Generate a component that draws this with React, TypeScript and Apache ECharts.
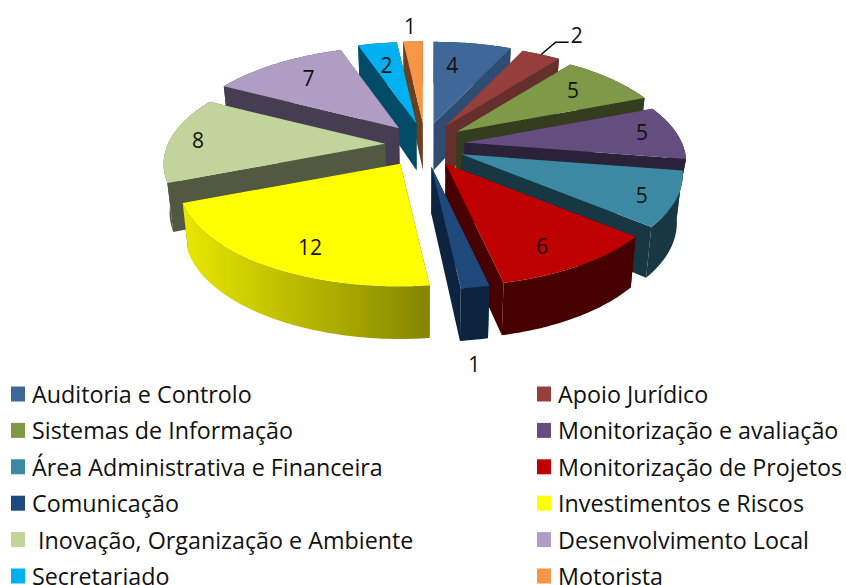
import React, { useEffect, useRef } from "react";
import * as echarts from "echarts";

const categories = [
  "Auditoria e Controlo",
  "Apoio Jurídico",
  "Sistemas de Informação",
  "Monitorização e avaliação",
  "Área Administrativa e Financeira",
  "Monitorização de Projetos",
  "Comunicação",
  "Investimentos e Riscos",
  " Inovação, Organização e Ambiente",
  "Desenvolvimento Local",
  "Secretariado",
  "Motorista",
];
const values = [4, 2, 5, 5, 5, 6, 1, 12, 8, 7, 2, 1];

const topColors = ["#3F6797", "#953F3C", "#7E9A48", "#654D80", "#3B89A3", "#BE0000", "#1F497D", "#FFFF00", "#C3D39C", "#AF9DC3", "#00B0F0", "#F79646"];
const wallColors = ["#2F4D72", "#652F2E", "#353D1F", "#2B2139", "#173843", "#470000", "#0D2440", "#A8A800", "#525941", "#463D53", "#004B66", "#6A401E"];

// Back-to-front painting order of the exploded slices
const paintOrder = [11, 0, 10, 1, 9, 2, 8, 3, 4, 7, 5, 6];
// Label placement: [fraction of the radius, angle offset from the slice's middle in degrees]
const labelPlace = [[0.68, -4.2], [1.36, 2], [0.745, -1], [0.842, -1.3], [0.86, 2], [0.81, 3], [1.44, 3.7], [0.81, -5], [0.87, -0.4], [0.737, 1.2], [0.692, -0.6], [1.24, -0.3]];

const CX = 425, CY = 145, EX = 40, EY = 22;
const R = 217, RY = 98, P = 0.2, DEPTH = 47, SHRINK = 0.977;
const total = values.reduce((a, b) => a + b, 0);
const rad = (d: number) => (d * Math.PI) / 180;

function sliceAngles(i: number) {
  const before = values.slice(0, i).reduce((a, b) => a + b, 0);
  const start = (before / total) * 360;
  const end = ((before + values[i]) / total) * 360;
  return { start, end, mid: (start + end) / 2 };
}

function project(i: number, deg: number, t: number) {
  const { mid } = sliceAngles(i);
  const ax = CX + EX * Math.sin(rad(mid)) + (i === 7 ? -4 : 0);
  const ay = CY - EY * Math.cos(rad(mid));
  const u = t * Math.sin(rad(deg));
  const v = t * Math.cos(rad(deg));
  const w = 1 + P * v;
  return { x: ax + (R * u) / w, y: ay - (RY * v) / w, v };
}

function lower(i: number, p: { x: number; y: number; v: number }) {
  const depth = i === 3 ? 30 : DEPTH;
  return [CX + (p.x - CX) * SHRINK, p.y + depth * (1 - 0.12 * p.v)];
}

function renderSlice(i: number) {
  const { start, end, mid } = sliceAngles(i);
  const apex = project(i, mid, 0);
  const arc: { x: number; y: number; v: number }[] = [];
  const steps = Math.max(4, Math.ceil(end - start));
  for (let k = 0; k <= steps; k++) arc.push(project(i, start + ((end - start) * k) / steps, 1));
  const first = arc[0];
  const last = arc[arc.length - 1];
  const xy = (p: { x: number; y: number }) => [p.x, p.y];
  const low = (p: { x: number; y: number; v: number }) => lower(i, p);
  const wallFill: any =
    i === 7
      ? new echarts.graphic.LinearGradient(0, 0, 1, 0, [
          { offset: 0, color: "#E8E800" },
          { offset: 1, color: "#858500" },
        ])
      : wallColors[i];

  const children: any[] = [
    { type: "polygon", shape: { points: [xy(apex), xy(first), low(first), low(apex)] }, style: { fill: wallColors[i === 7 ? 8 : i] } },
    { type: "polygon", shape: { points: [xy(apex), xy(last), low(last), low(apex)] }, style: { fill: wallColors[i === 7 ? 8 : i] } },
    {
      type: "polygon",
      shape: { points: [...arc.map(xy), ...arc.slice().reverse().map(low)] },
      style: { fill: wallFill },
    },
    { type: "polygon", shape: { points: [xy(apex), ...arc.map(xy)] }, style: { fill: topColors[i] } },
  ];
  return children;
}

function renderLabel(i: number) {
  const { mid } = sliceAngles(i);
  const [t, off] = labelPlace[i];
  const p = project(i, mid + off, t);
  const children: any[] = [
    {
      type: "text",
      x: p.x,
      y: p.y,
      z2: 100,
      style: { text: String(values[i]), fill: "#111", font: "21px 'Open Sans'", align: "center", verticalAlign: "middle" },
    },
  ];
  if (i === 1) {
    const s = project(i, mid, 1);
    children.push({
      type: "polyline",
      z2: 100,
      shape: { points: [[s.x, s.y], [p.x - 21, p.y + 7], [p.x - 8, p.y + 7]] },
      style: { stroke: "#000", lineWidth: 1.5, fill: "none" },
    });
  }
  return children;
}

const legendBase = {
  orient: "vertical",
  top: 382.5,
  height: 260,
  padding: 0,
  itemWidth: 14,
  itemHeight: 15,
  itemGap: 13.4,
  selectedMode: false,
  icon: "rect",
  textStyle: { fontFamily: "Open Sans", fontSize: 23.3, color: "#111", padding: [0, 0, 0, 2] },
};

export default function App() {
  const ref = useRef<HTMLDivElement>(null);
  useEffect(() => {
    document.body.style.margin = "0";
    const chart = echarts.init(ref.current!, undefined, { renderer: "svg" });
    chart.setOption({
      animation: false,
      backgroundColor: "#fff",
      legend: [
        { ...legendBase, left: 11, width: 400, data: categories.filter((_, i) => i % 2 === 0) },
        { ...legendBase, left: 537, width: 309, data: categories.filter((_, i) => i % 2 === 1) },
      ],
      series: paintOrder.map((i, order) => ({
        type: "custom",
        name: categories[i],
        coordinateSystem: "none",
        z: order + 2,
        silent: true,
        itemStyle: { color: topColors[i] },
        data: [[values[i]]],
        renderItem: () => ({ type: "group", children: renderSlice(i) }),
      })).concat([
        {
          type: "custom",
          name: "__labels",
          coordinateSystem: "none",
          z: 50,
          silent: true,
          data: values.map((v) => [v]),
          renderItem: (params: any) => ({ type: "group", children: renderLabel(params.dataIndex) }),
        } as any,
      ]),
    });
    return () => chart.dispose();
  }, []);
  return <div ref={ref} style={{ width: 846, height: 585 }} />;
}
